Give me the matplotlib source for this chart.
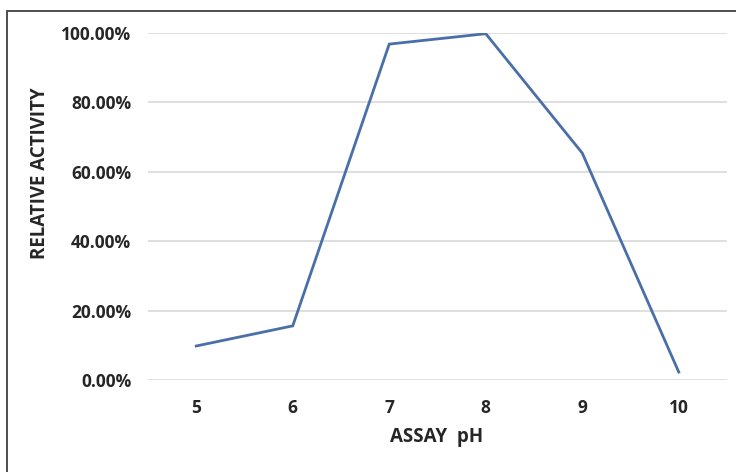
import matplotlib.pyplot as plt
from matplotlib.patches import Rectangle
from matplotlib.ticker import PercentFormatter

ph = ["5", "6", "7", "8", "9", "10"]
activity = [0.098, 0.156, 0.968, 0.998, 0.654, 0.023]
yticks = [0.0, 0.2, 0.4, 0.6, 0.8, 1.0]

plt.rcParams["font.family"] = ["Open Sans", "DejaVu Sans"]

fig = plt.figure(figsize=(7.36, 4.72), dpi=100)
ax = fig.add_axes([148 / 736, 1 - 380 / 472, (727 - 148) / 736, (380 - 33) / 472])

x = list(range(len(ph)))
ax.plot(x, activity, color="#4a6fa8", linewidth=2.0, solid_joinstyle="miter")

ax.set_xlim(-0.5, len(ph) - 0.5)
ax.set_ylim(0, 1.0)
ax.set_xticks(x)
ax.set_xticklabels(ph)
ax.set_yticks(yticks)
ax.yaxis.set_major_formatter(PercentFormatter(1.0, decimals=2))
ax.grid(axis="y", color="#d9d9d9", linewidth=1.2)
ax.set_axisbelow(True)
for s in ax.spines.values():
    s.set_visible(False)
ax.tick_params(length=0, labelsize=12.5)
ax.tick_params(axis="y", pad=12)
ax.tick_params(axis="x", pad=14)
for lab in ax.get_xticklabels() + ax.get_yticklabels():
    lab.set_fontweight("bold")
    lab.set_color("#262626")

ax.set_xlabel("ASSAY  pH", fontsize=13.5, fontweight="bold", color="#262626")
ax.set_ylabel("RELATIVE ACTIVITY", fontsize=13.5, fontweight="bold", color="#262626")
ax.xaxis.set_label_coords((437 - 148) / (727 - 148), -(437 - 380) / (380 - 33), transform=ax.transAxes)
ax.yaxis.set_label_coords(-(148 - 40) / (727 - 148), (380 - 173) / (380 - 33), transform=ax.transAxes)
ax.xaxis.label.set_va("center")
ax.yaxis.label.set_va("center")

# outer chart border, cut off at right and bottom like the reference
fig.patches.append(Rectangle((7 / 736, -0.1), 1.2, 1 - 11 / 472 + 0.1, transform=fig.transFigure,
                             fill=False, edgecolor="#404040", linewidth=1.3))

fig.savefig("out.png", dpi=100)
plt.close(fig)
